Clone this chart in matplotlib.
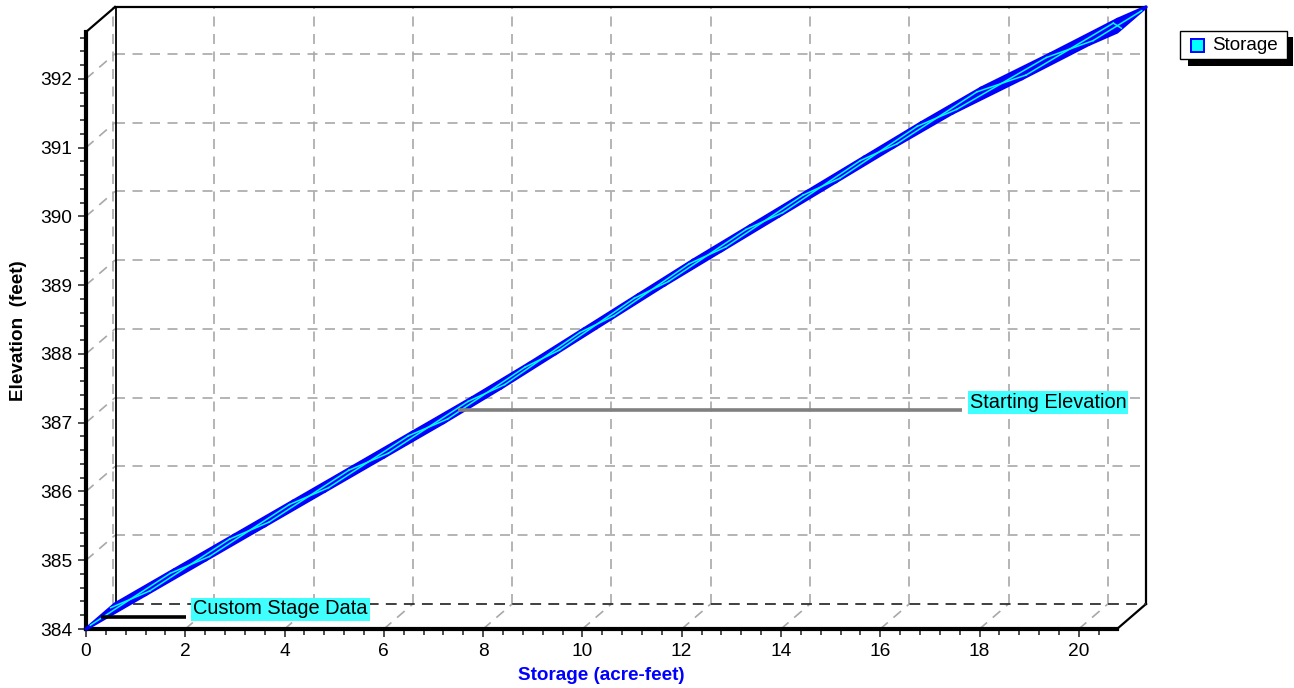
import matplotlib
matplotlib.use("Agg")
import matplotlib.pyplot as plt
from matplotlib.patches import Polygon, Rectangle
from matplotlib.ticker import MultipleLocator
import numpy as np

plt.rcParams['font.family'] = ['Liberation Sans', 'DejaVu Sans']

# ---------------- data ----------------
elevation = [384.0, 384.5, 385.0, 385.5, 386.0, 386.5, 387.0, 387.5, 388.0, 388.5,
             389.0, 389.5, 390.0, 390.5, 391.0, 391.5, 392.0, 392.5, 392.68]
storage = [0.0, 1.2, 2.4, 3.6, 4.8, 6.0, 7.2, 8.35, 9.45, 10.55,
           11.65, 12.8, 13.95, 15.1, 16.25, 17.45, 18.85, 20.2, 20.77]
series_name = "Storage"
x_ticks = [0, 2, 4, 6, 8, 10, 12, 14, 16, 18, 20]
y_ticks = [384, 385, 386, 387, 388, 389, 390, 391, 392]
annot_labels = ["Custom Stage Data", "Starting Elevation"]
annot_storage = [0.0, 7.2]
annot_elev = [384.0, 387.0]
annot_label_x = [1.79, 17.43]
annot_line_colors = ["black", "#808080"]

# ---------------- figure ----------------
W, H, DPI = 1294, 688, 100
fig = plt.figure(figsize=(W / DPI, H / DPI), dpi=DPI)
L, R, T, B = 86, 1117, 32, 629
ax = fig.add_axes([L / W, (H - B) / H, (R - L) / W, (B - T) / H])
xmin, xmax = 0.0, max(storage)
ymin, ymax = min(elevation), max(elevation)
ax.set_xlim(xmin, xmax)
ax.set_ylim(ymin, ymax)

# depth offset in pixels -> data units
DXP, DYP = 29, 25
ddx = DXP / ((R - L) / (xmax - xmin))
ddy = DYP / ((B - T) / (ymax - ymin))

grid_kw = dict(color="#a8a8a8", lw=1.2, ls=(0, (6, 4.5)), clip_on=False, zorder=1)

# back wall horizontal grid + left wall diagonals
for yv in y_ticks[1:]:
    ax.plot([xmin + ddx, xmax + ddx], [yv + ddy, yv + ddy], **grid_kw)
    ax.plot([xmin, xmin + ddx], [yv, yv + ddy], **grid_kw)
# back wall vertical grid + floor diagonals
for xv in x_ticks:
    ax.plot([xv + ddx * 0.93, xv + ddx * 0.93] if xv == 0 else [xv + ddx, xv + ddx],
            [ymin + ddy, ymax + ddy], **grid_kw)
    if xv > 0:
        ax.plot([xv, xv + ddx], [ymin, ymin + ddy], **grid_kw)

frame_kw = dict(color="black", lw=1.6, clip_on=False, zorder=2)
# top diagonal, back top, back right, bottom-right diagonal
ax.plot([xmin, xmin + ddx], [ymax, ymax + ddy], **frame_kw)
ax.plot([xmin + ddx, xmax + ddx], [ymax + ddy, ymax + ddy], **frame_kw)
ax.plot([xmax + ddx, xmax + ddx], [ymin + ddy, ymax + ddy], **frame_kw)
ax.plot([xmax, xmax + ddx], [ymin, ymin + ddy], **frame_kw)
# back left edge
ax.plot([xmin + ddx * 1.03, xmin + ddx * 1.03], [ymin + ddy, ymax + ddy], color="black",
        lw=1.3, clip_on=False, zorder=2)
# back floor edge (dashed dark)
ax.plot([xmin + ddx, xmax + ddx], [ymin + ddy, ymin + ddy], color="#303030", lw=1.3,
        ls=(0, (6, 4)), clip_on=False, zorder=2)

# ---------------- ribbon ----------------
s = np.array(storage)
e = np.array(elevation)
for i in range(len(s) - 1):
    quad = [(s[i], e[i]), (s[i + 1], e[i + 1]),
            (s[i + 1] + ddx, e[i + 1] + ddy), (s[i] + ddx, e[i] + ddy)]
    ax.add_patch(Polygon(quad, closed=True, facecolor="#0000ff", edgecolor="#0000ff",
                         lw=2.4, clip_on=False, zorder=4, joinstyle="round"))
for i in range(len(s) - 1):
    ax.plot([s[i] + ddx * 0.15, s[i + 1] + ddx * 0.85], [e[i] + ddy * 0.15, e[i + 1] + ddy * 0.85],
            color="#00ffff", lw=1.1, clip_on=False, zorder=5)
    ax.plot([s[i] + ddx * 0.85, s[i + 1] + ddx * 0.15], [e[i] + ddy * 0.85, e[i + 1] + ddy * 0.15],
            color="#00ffff", lw=1.1, clip_on=False, zorder=5)

# ---------------- annotations ----------------
for lab, xs, ye, lx, lc in zip(annot_labels, annot_storage, annot_elev, annot_label_x, annot_line_colors):
    ax.plot([xs + ddx / 2, lx + ddx / 2 - 0.07], [ye + ddy / 2, ye + ddy / 2], color=lc,
            lw=2.6, clip_on=False, zorder=6, solid_capstyle="butt")
    ax.annotate(lab, xy=(lx + ddx / 2, ye + ddy / 2), xytext=(4, 7.5), textcoords="offset pixels",
                ha="left", va="center", fontsize=14.4, color="black", zorder=7,
                bbox=dict(boxstyle="square,pad=0.1", facecolor="#40ffff", edgecolor="none"),
                annotation_clip=False)

# ---------------- axes styling ----------------
for sp in ["top", "right"]:
    ax.spines[sp].set_visible(False)
for sp in ["left", "bottom"]:
    ax.spines[sp].set_linewidth(3)
    ax.spines[sp].set_color("black")
ax.patch.set_visible(False)
ax.xaxis.set_major_locator(MultipleLocator(2))
ax.xaxis.set_minor_locator(MultipleLocator(0.4))
ax.yaxis.set_major_locator(MultipleLocator(1))
ax.yaxis.set_minor_locator(MultipleLocator(0.2))
ax.set_xticks(x_ticks)
ax.set_yticks(y_ticks)
ax.tick_params(which="major", direction="out", length=6, width=1.3, color="#404040",
               labelsize=13.8, pad=4)
ax.tick_params(which="minor", direction="out", length=4, width=1.3, color="#404040")

ax.set_xlabel("Storage (acre-feet)", fontsize=13.6, fontweight="bold", color="#0000ff")
ax.xaxis.set_label_coords(0.5, -(675 - B) / (B - T))
ax.xaxis.label.set_va("center")
ax.set_ylabel("Elevation  (feet)", fontsize=13.6, fontweight="bold", color="black")
ax.yaxis.set_label_coords((18.5 - L) / (R - L), 0.5)
ax.yaxis.label.set_va("center")

# ---------------- legend ----------------
def fx(px):
    return px / W

def fy(py):
    return 1 - py / H

fig.patches.append(Rectangle((fx(1188), fy(66)), fx(1293) - fx(1188), fy(37) - fy(66),
                             transform=fig.transFigure, facecolor="black", edgecolor="none", zorder=1))
fig.patches.append(Rectangle((fx(1180), fy(59)), fx(1287) - fx(1180), fy(31) - fy(59),
                             transform=fig.transFigure, facecolor="white", edgecolor="black",
                             lw=1.0, zorder=2))
fig.patches.append(Rectangle((fx(1191), fy(52)), fx(1204) - fx(1191), fy(39) - fy(52),
                             transform=fig.transFigure, facecolor="#00ffff", edgecolor="#0000ff",
                             lw=1.4, zorder=3))
fig.text(fx(1212), fy(45.5), series_name, fontsize=13.6, ha="left", va="center", zorder=4)

fig.savefig("out.png", dpi=DPI)
